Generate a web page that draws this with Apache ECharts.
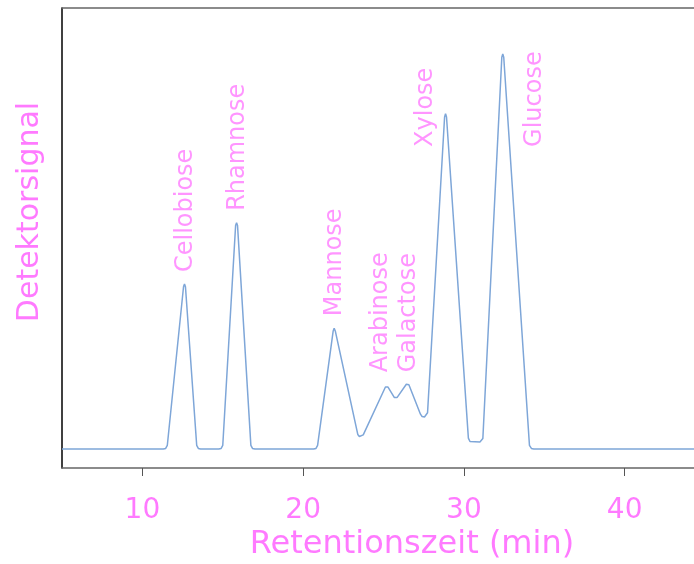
<!DOCTYPE html>
<html>
<head>
<meta charset="utf-8">
<script src="https://cdn.jsdelivr.net/npm/echarts@6/dist/echarts.min.js"></script>
<style>html,body{margin:0;padding:0;background:#fff;overflow:hidden;width:694px;height:564px;}#chart{width:720px;height:564px;}</style>
</head>
<body>
<div id="chart"></div>
<script>
// Chromatogram trace (retention time in min, detector signal in arbitrary units)
var retentionTime = [5.0,
  11.3, 11.45, 11.55, 12.56, 12.62, 12.68, 13.38, 13.48, 13.62,
  14.75, 14.9, 15.0, 15.8, 15.86, 15.92, 16.75, 16.85, 17.0,
  20.65, 20.8, 20.9, 21.87, 21.93, 22.0, 23.4, 23.5, 23.62, 23.74,
  25.12, 25.2, 25.28, 25.68, 25.76, 25.84, 26.42, 26.5, 26.58,
  27.3, 27.4, 27.55, 27.66, 27.74, 28.8, 28.86, 28.92,
  30.28, 30.38, 30.5, 31.0, 31.1, 31.18,
  32.36, 32.42, 32.48, 34.08, 34.2, 34.35, 45.0];
var signal = [4.13,
  4.13, 4.25, 4.9, 39.4, 40.0, 39.4, 4.9, 4.25, 4.13,
  4.13, 4.25, 4.9, 52.7, 53.3, 52.7, 4.9, 4.25, 4.13,
  4.13, 4.25, 4.9, 29.8, 30.4, 29.8, 7.3, 6.85, 6.74, 7.2,
  17.6, 18.0, 17.6, 15.3, 15.0, 15.3, 18.2, 18.5, 18.1,
  11.7, 11.2, 11.1, 11.2, 12.0, 76.3, 77.0, 76.3,
  6.5, 5.75, 5.65, 5.65, 5.75, 6.4,
  89.3, 90.0, 89.3, 4.9, 4.25, 4.13, 4.13];

// Peak annotations
var peakNames = ['Cellobiose', 'Rhamnose', 'Mannose', 'Arabinose', 'Galactose', 'Xylose', 'Glucose'];
var labelTime = [12.7, 15.92, 21.95, 24.82, 26.58, 27.6, 34.42];
var labelSignal = [42.6, 55.9, 33.0, 20.8, 20.8, 69.8, 69.8];

var xTicks = [10, 20, 30, 40];

var magenta = '#ff7aff';
var fontFam = "'DejaVu Sans ExtraLight', 'DejaVu Sans'";

var chart = echarts.init(document.getElementById('chart'), null, {renderer: 'canvas'});
var option = {
  animation: false,
  backgroundColor: '#ffffff',
  grid: {left: 62, top: 8, width: 643, height: 460, containLabel: false},
  xAxis: [{
    type: 'value', min: 5, max: 45, position: 'bottom',
    axisLine: {show: true, onZero: false, lineStyle: {color: '#666666', width: 1.5}},
    axisTick: {show: true, length: 8, customValues: xTicks, lineStyle: {color: '#555555', width: 1}},
    axisLabel: {
      show: true, margin: 29, customValues: xTicks, color: magenta, fontFamily: fontFam, fontSize: 28
    },
    splitLine: {show: false}
  }, {
    type: 'value', min: 5, max: 45, position: 'top',
    axisLine: {show: true, onZero: false, lineStyle: {color: '#666666', width: 1.5}},
    axisTick: {show: false}, axisLabel: {show: false}, splitLine: {show: false}
  }],
  yAxis: {
    type: 'value', min: 0, max: 100,
    axisLine: {show: true, onZero: false, lineStyle: {color: '#000000', width: 1.5}},
    axisTick: {show: false}, axisLabel: {show: false}, splitLine: {show: false}
  },
  series: [{
    type: 'line',
    data: retentionTime.map(function (t, i) { return [t, signal[i]]; }),
    showSymbol: false, symbol: 'none', smooth: false,
    lineStyle: {color: '#7ea6d8', width: 1.5}
  }, {
    type: 'scatter',
    data: labelTime.map(function (t, i) { return [t, labelSignal[i]]; }),
    symbolSize: 0,
    label: {
      show: true, position: 'inside', rotate: 90, align: 'left', verticalAlign: 'middle',
      color: magenta, fontFamily: fontFam, fontSize: 24,
      formatter: function (p) { return peakNames[p.dataIndex]; }
    }
  }],
  graphic: [{
    type: 'text', x: 412, y: 545,
    style: {text: 'Retentionszeit (min)', fill: magenta, font: "32px 'DejaVu Sans ExtraLight', 'DejaVu Sans'",
      textAlign: 'center', textVerticalAlign: 'middle'}
  }, {
    type: 'text', x: 30, y: 212, rotation: Math.PI / 2,
    style: {text: 'Detektorsignal', fill: magenta, font: "30px 'DejaVu Sans ExtraLight', 'DejaVu Sans'",
      textAlign: 'center', textVerticalAlign: 'middle'}
  }]
};
chart.setOption(option);
</script>
</body>
</html>
